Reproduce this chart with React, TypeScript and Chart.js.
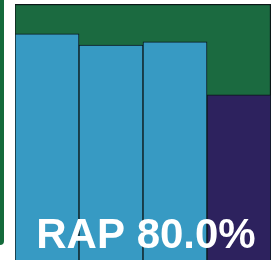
import React, { useEffect, useRef } from "react";
import { Chart, registerables } from "chart.js";

Chart.register(...registerables);

const categories = ["A", "B", "C", "D"];
const lowerValues = [88.3, 84.0, 85.2, 64.5];
const upperValues = [11.7, 16.0, 14.8, 35.5];
const lowerColors = ["#379ac3", "#379ac3", "#379ac3", "#2d225e"];
const upperColor = "#1b6a40";
const labelText = "RAP 80.0%";

const bgPlugin = {
  id: "bgPlugin",
  beforeDatasetsDraw(chart: any) {
    const { ctx, chartArea } = chart;
    ctx.save();
    ctx.fillStyle = upperColor;
    ctx.fillRect(chartArea.left, chartArea.top, chartArea.right - chartArea.left, chartArea.bottom - chartArea.top);
    ctx.restore();
  },
};

const labelPlugin = {
  id: "labelPlugin",
  afterDraw(chart: any) {
    const ctx = chart.ctx;
    ctx.save();
    ctx.font = "bold 42px 'Liberation Sans', Arial, sans-serif";
    ctx.fillStyle = "#ffffff";
    ctx.textAlign = "center";
    ctx.textBaseline = "alphabetic";
    ctx.fillText(labelText, 146, 248);
    ctx.restore();
  },
};

export default function App() {
  const ref = useRef<HTMLCanvasElement>(null);
  useEffect(() => {
    if (!ref.current) return;
    const last = categories.length - 1;
    const chart = new Chart(ref.current, {
      type: "bar",
      data: {
        labels: categories,
        datasets: [
          {
            data: lowerValues,
            backgroundColor: lowerColors,
            borderColor: "#0b1717",
            borderWidth: 1,
            barPercentage: 1,
            categoryPercentage: 1,
          },
          {
            data: upperValues,
            backgroundColor: upperColor,
            borderColor: "#0b1717",
            borderSkipped: false,
            borderWidth: (c: any) => ({
              top: 1.5,
              bottom: 0,
              left: c.dataIndex === 0 ? 1 : 0,
              right: c.dataIndex === last ? 1.5 : 0,
            }),
            barPercentage: 1,
            categoryPercentage: 1,
          },
        ],
      },
      options: {
        animation: false,
        responsive: false,
        maintainAspectRatio: false,
        layout: { padding: { left: 15, top: 4, right: 2, bottom: 1 } },
        plugins: { legend: { display: false }, tooltip: { enabled: false } },
        scales: {
          x: { stacked: true, display: false },
          y: { stacked: true, display: false, min: 0, max: 100 },
        },
      },
      plugins: [bgPlugin, labelPlugin],
    });
    return () => chart.destroy();
  }, []);
  return (
    <div style={{ position: "absolute", left: 0, top: 0, width: 273, height: 261, background: "#ffffff" }}>
      <div
        style={{
          position: "absolute",
          left: 0,
          top: 0,
          width: 4,
          height: 245,
          background: "#146b3b",
          borderBottomRightRadius: 4,
        }}
      />
      <canvas ref={ref} width={273} height={261} style={{ position: "absolute", left: 0, top: 0 }} />
    </div>
  );
}
